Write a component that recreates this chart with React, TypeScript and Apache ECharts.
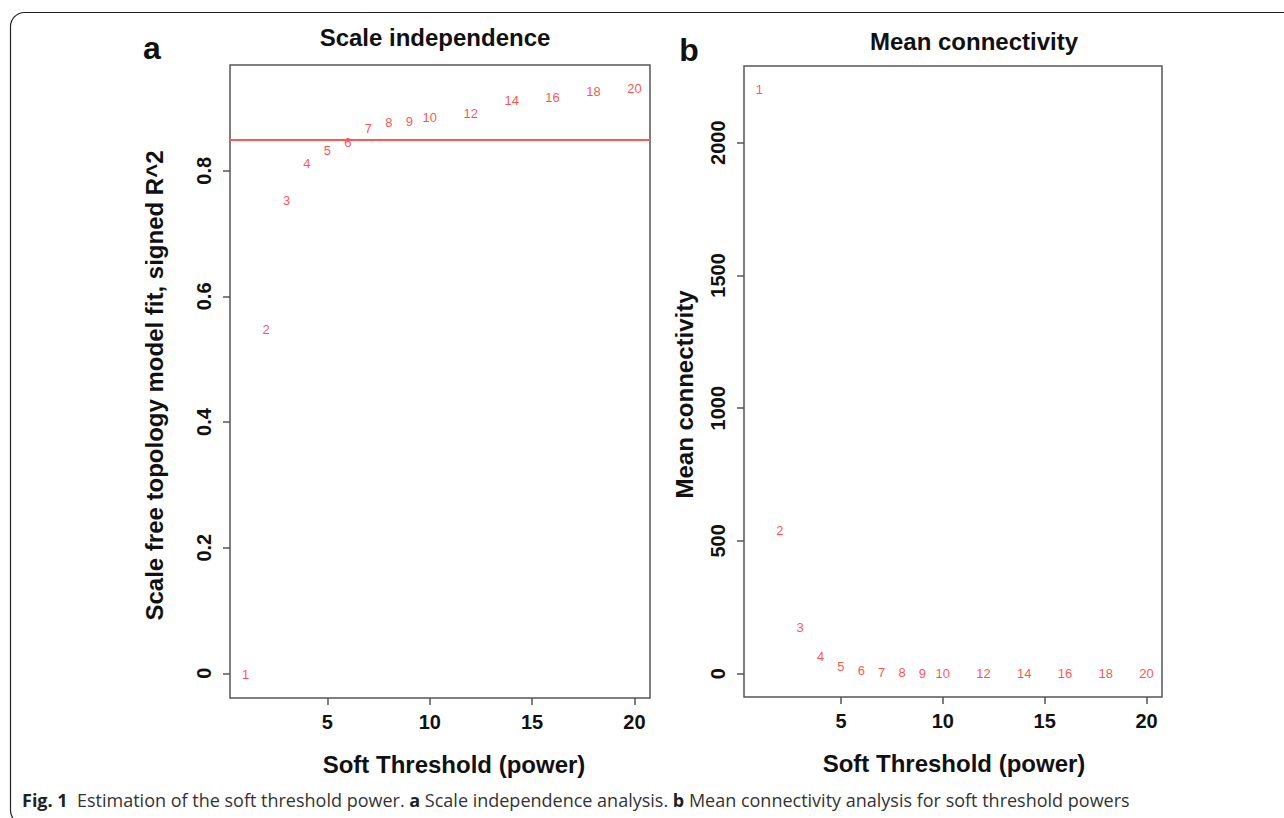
import React, { useEffect, useRef } from "react";
import * as echarts from "echarts";

// ---- data ----
const powers = [1, 2, 3, 4, 5, 6, 7, 8, 9, 10, 12, 14, 16, 18, 20];
const scaleFreeR2 = [-0.002, 0.547, 0.752, 0.811, 0.832, 0.845, 0.868, 0.877, 0.879, 0.884, 0.891, 0.912, 0.916, 0.926, 0.931];
const meanConnectivity = [2201, 539, 175, 65, 25, 12, 5, 2.5, 1.2, 0.6, 0.25, 0.12, 0.06, 0.03, 0.02];
const r2Cutoff = 0.85;
const xTicks = [5, 10, 15, 20];
const r2Ticks = [0, 0.2, 0.4, 0.6, 0.8];
const kTicks = [0, 500, 1000, 1500, 2000];
const titleA = "Scale independence";
const titleB = "Mean connectivity";
const xName = "Soft Threshold (power)";
const yNameA = "Scale free topology model fit, signed R^2";
const yNameB = "Mean connectivity";

const FONT = "'Liberation Sans', Arial, Helvetica, sans-serif";
const RED = "#ff1f1f";

// R-style 4% range extension
function rRange(vals: number[]) {
  const mn = Math.min(...vals);
  const mx = Math.max(...vals);
  const d = mx - mn;
  return [mn - 0.04 * d, mx + 0.04 * d];
}

export default function App() {
  const ref = useRef<HTMLDivElement>(null);
  useEffect(() => {
    if (!ref.current) return;
    const chart = echarts.init(ref.current, null, { renderer: "svg" });
    const xr = rRange(powers);
    const yrA = rRange(scaleFreeR2);
    const yrB = rRange(meanConnectivity);

    const tickStyle = { show: true, inside: false, length: 7, lineStyle: { color: "#555", width: 1.5 } };
    const labelStyle = { fontFamily: FONT, fontWeight: "bold", fontSize: 20, color: "#111" };
    const nameStyle = { fontFamily: FONT, fontWeight: "bold", fontSize: 24, color: "#111" };

    const mkX = (gridIndex: number, shift: number) => ({
      type: "value",
      gridIndex,
      min: xr[0],
      max: xr[1],
      axisLine: { show: false, onZero: false },
      splitLine: { show: false },
      axisTick: { ...tickStyle, customValues: xTicks },
      axisLabel: { ...labelStyle, margin: 14, customValues: xTicks, formatter: (v: number) => String(v) },
      name: xName,
      nameLocation: "middle",
      nameGap: 54,
      nameTextStyle: { ...nameStyle, padding: [0, 0, 0, shift] },
    });

    const pointLabel = {
      show: true,
      position: "inside",
      color: RED,
      fontFamily: FONT,
      fontSize: 13,
      formatter: (p: any) => String(powers[p.dataIndex]),
    };

    const option: any = {
      animation: false,
      backgroundColor: "#fff",
      grid: [
        { left: 230, top: 65, width: 420, height: 633, show: true, borderColor: "#555", borderWidth: 1.5, backgroundColor: "transparent" },
        { left: 744, top: 66, width: 418, height: 631, show: true, borderColor: "#555", borderWidth: 1.5, backgroundColor: "transparent" },
      ],
      xAxis: [mkX(0, 28), mkX(1, 2)],
      yAxis: [
        {
          type: "value",
          gridIndex: 0,
          min: yrA[0],
          max: yrA[1],
          axisLine: { show: false, onZero: false },
          splitLine: { show: false },
          axisTick: { ...tickStyle, customValues: r2Ticks },
          axisLabel: { ...labelStyle, rotate: 90, margin: 16, customValues: r2Ticks, formatter: (v: number) => String(v) },
          name: yNameA,
          nameLocation: "middle",
          nameGap: 64,
          nameTextStyle: { ...nameStyle, padding: [0, 8, 0, 0] },
        },
        {
          type: "value",
          gridIndex: 1,
          min: yrB[0],
          max: yrB[1],
          axisLine: { show: false, onZero: false },
          splitLine: { show: false },
          axisTick: { ...tickStyle, customValues: kTicks },
          axisLabel: { ...labelStyle, rotate: 90, margin: 16, customValues: kTicks, formatter: (v: number) => String(v) },
          name: yNameB,
          nameLocation: "middle",
          nameGap: 48,
          nameTextStyle: { ...nameStyle, padding: [0, 26, 0, 0] },
        },
      ],
      series: [
        {
          type: "scatter",
          xAxisIndex: 0,
          yAxisIndex: 0,
          symbolSize: 2,
          itemStyle: { color: "transparent" },
          label: pointLabel,
          data: powers.map((p, i) => [p, scaleFreeR2[i]]),
          markLine: {
            silent: true,
            symbol: "none",
            label: { show: false },
            lineStyle: { color: "#ff5555", width: 2, type: "solid" },
            data: [{ yAxis: r2Cutoff }],
          },
        },
        {
          type: "scatter",
          xAxisIndex: 1,
          yAxisIndex: 1,
          symbolSize: 2,
          itemStyle: { color: "transparent" },
          label: pointLabel,
          data: powers.map((p, i) => [p, meanConnectivity[i]]),
        },
      ],
      graphic: [
        {
          type: "rect",
          shape: { x: 10.5, y: 12.5, width: 1300, height: 812, r: 14 },
          style: { fill: "none", stroke: "#222", lineWidth: 1.2 },
          silent: true,
        },
        {
          type: "text",
          x: 435,
          y: 37,
          style: { text: titleA, font: `bold 24px ${FONT}`, fill: "#111", textAlign: "center", textVerticalAlign: "middle" },
        },
        {
          type: "text",
          x: 974,
          y: 41,
          style: { text: titleB, font: `bold 24px ${FONT}`, fill: "#111", textAlign: "center", textVerticalAlign: "middle" },
        },
        {
          type: "text",
          x: 152,
          y: 48,
          style: { text: "a", font: `bold 32px ${FONT}`, fill: "#111", textAlign: "center", textVerticalAlign: "middle" },
        },
        {
          type: "text",
          x: 689,
          y: 50,
          style: { text: "b", font: `bold 32px ${FONT}`, fill: "#111", textAlign: "center", textVerticalAlign: "middle" },
        },
        {
          type: "text",
          x: 22,
          y: 800,
          style: {
            text: "{b|Fig. 1}  Estimation of the soft threshold power. {b|a} Scale independence analysis. {b|b} Mean connectivity analysis for soft threshold powers",
            font: `18px 'Open Sans', 'Noto Sans', sans-serif`,
            fill: "#333",
            textVerticalAlign: "middle",
            rich: {
              b: { fontFamily: "'Open Sans', 'Noto Sans', sans-serif", fontWeight: "bold", fontSize: 18, fill: "#222" },
            },
          },
        },
      ],
    };
    chart.setOption(option);
    return () => chart.dispose();
  }, []);
  return (
    <div
      ref={ref}
      style={{ position: "absolute", left: 0, top: 0, width: 1284, height: 818, background: "#fff" }}
    />
  );
}
